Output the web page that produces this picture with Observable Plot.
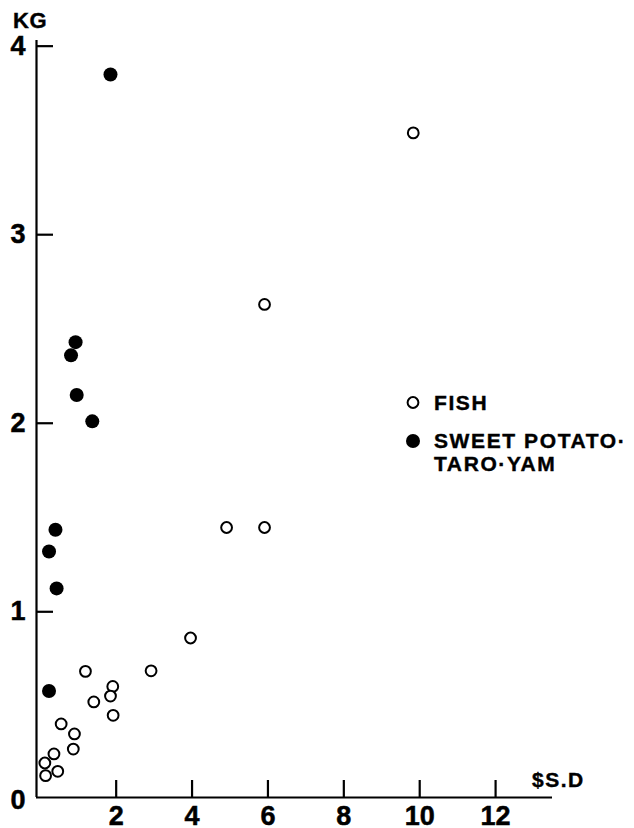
<!DOCTYPE html>
<html><head><meta charset="utf-8">
<script src="https://cdn.jsdelivr.net/npm/d3@7"></script>
<script src="https://cdn.jsdelivr.net/npm/@observablehq/plot@0.6"></script>
<style>
body{margin:0;background:#fff;}
#wrap{position:relative;width:634px;height:828px;font-family:"Liberation Sans",Arial,sans-serif;font-weight:bold;color:#000;}
.lbl{position:absolute;white-space:nowrap;line-height:1;-webkit-text-stroke:0.4px #000;}
#legend{position:absolute;left:0;top:0;}
#wrap svg text{stroke:#000;stroke-width:0.5px;}
</style></head><body><div id="wrap"></div>
<script>
// Fish (open circles)
const fishX = [9.83, 5.91, 4.91, 5.91, 3.96, 2.92, 1.19, 1.91, 1.85, 1.41, 1.92, 0.55, 0.90, 0.87, 0.36, 0.12, 0.46, 0.14];
const fishY = [3.54, 2.63, 1.447, 1.447, 0.861, 0.687, 0.684, 0.604, 0.553, 0.522, 0.451, 0.405, 0.352, 0.272, 0.246, 0.198, 0.154, 0.131];
// Sweet potato · taro · yam (filled circles)
const rootX = [1.85, 0.93, 0.81, 0.96, 1.37, 0.40, 0.23, 0.43, 0.23];
const rootY = [3.85, 2.43, 2.36, 2.15, 2.01, 1.435, 1.32, 1.124, 0.58];
const xTicks = [2, 4, 6, 8, 10, 12];
const yTicks = [0, 1, 2, 3, 4];
const xDomain = [-0.1, 13.5];
const yDomain = [0.015, 4.03];
const seriesNames = ["FISH", "SWEET POTATO·", "TARO·YAM"];

const fish = fishX.map((x, i) => ({x, y: fishY[i]}));
const roots = rootX.map((x, i) => ({x, y: rootY[i]}));

const W = 634, H = 828, mL = 36, mR = 82, mT = 40, mB = 31, tickPx = 17;
const pxPerX = (W - mL - mR) / (xDomain[1] - xDomain[0]);
const pxPerY = (H - mT - mB) / (yDomain[1] - yDomain[0]);

const chart = Plot.plot({
  width: W, height: H,
  marginLeft: mL, marginRight: mR, marginTop: mT, marginBottom: mB,
  style: {fontFamily: "'Liberation Sans', Arial, sans-serif", fontSize: "27px", fontWeight: "bold", color: "black", background: "white", overflow: "visible"},
  x: {domain: xDomain},
  y: {domain: yDomain},
  marks: [
    Plot.ruleY([yDomain[0]], {strokeWidth: 2.2}),
    Plot.ruleX([xDomain[0]], {strokeWidth: 2.2}),
    Plot.ruleX(xTicks, {x: d => d, y1: yDomain[0], y2: yDomain[0] + tickPx / pxPerY, strokeWidth: 2.2}),
    Plot.ruleY(yTicks.filter(d => d > 0), {y: d => d, x1: xDomain[0], x2: xDomain[0] + tickPx / pxPerX, strokeWidth: 2.2}),
    Plot.axisX({ticks: xTicks, tickSize: 0, tickPadding: 8, label: null, fontSize: 27, fontWeight: "bold", tickFormat: d => String(d)}),
    Plot.axisY({ticks: yTicks, tickSize: 0, tickPadding: 11, label: null, fontSize: 27, fontWeight: "bold", tickFormat: d => String(d)}),
    Plot.dot(roots, {x: "x", y: "y", r: 7, fill: "black", stroke: "none"}),
    Plot.dot(fish, {x: "x", y: "y", r: 5.4, fill: "white", stroke: "black", strokeWidth: 2})
  ]
});
const wrap = document.getElementById("wrap");
wrap.appendChild(chart);

function addLabel(text, left, top, size, spacing) {
  const d = document.createElement("div");
  d.className = "lbl";
  d.textContent = text;
  d.style.left = left + "px";
  d.style.top = top + "px";
  d.style.fontSize = size + "px";
  d.style.letterSpacing = spacing + "px";
  wrap.appendChild(d);
  return d;
}
addLabel("KG", 13, 9.5, 22, 0.5);
addLabel("$S.D", 532, 769, 21, 1.5);

// legend
const ns = "http://www.w3.org/2000/svg";
const lg = document.createElementNS(ns, "svg");
lg.setAttribute("width", W); lg.setAttribute("height", H);
lg.setAttribute("id", "legend");
lg.style.pointerEvents = "none";
const c1 = document.createElementNS(ns, "circle");
c1.setAttribute("cx", 413); c1.setAttribute("cy", 402.5); c1.setAttribute("r", 5.4);
c1.setAttribute("fill", "white"); c1.setAttribute("stroke", "black"); c1.setAttribute("stroke-width", 2);
const c2 = document.createElementNS(ns, "circle");
c2.setAttribute("cx", 413); c2.setAttribute("cy", 441); c2.setAttribute("r", 7);
c2.setAttribute("fill", "black");
lg.appendChild(c1); lg.appendChild(c2);
wrap.appendChild(lg);
addLabel(seriesNames[0], 434, 392, 21, 1.6);
addLabel(seriesNames[1], 434, 430, 21, 1.6);
addLabel(seriesNames[2], 434, 453, 21, 1.6);
</script></body></html>
